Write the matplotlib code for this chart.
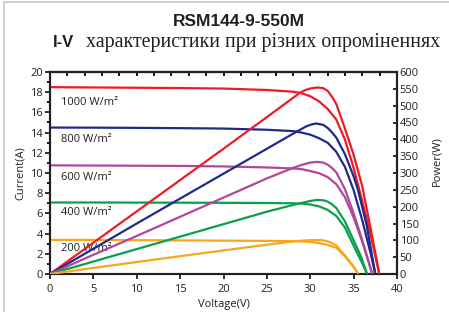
import matplotlib
matplotlib.use("Agg")
import matplotlib.pyplot as plt
from matplotlib.lines import Line2D
from matplotlib.ticker import MultipleLocator

# ---------------- data ----------------
irradiance_labels = ["1000 W/m²", "800 W/m²", "600 W/m²", "400 W/m²", "200 W/m²"]

# I-V curves (voltage V, current A)
v_i_1000 = [0, 5, 10, 15, 20, 25, 28, 29, 30, 31, 32, 33, 34, 35, 36, 37, 37.96]
i_1000 = [18.5, 18.47, 18.44, 18.41, 18.36, 18.22, 18.05, 17.9, 17.6, 17.1, 16.35, 15.3, 13.3, 10.5, 7.2, 3.7, 0]

v_i_800 = [0, 5, 10, 15, 20, 25, 28, 29, 30, 31, 32, 33, 34, 35, 36, 37, 37.5]
i_800 = [14.5, 14.49, 14.47, 14.44, 14.4, 14.28, 14.15, 14.0, 13.8, 13.45, 13.0, 12.1, 10.6, 8.3, 5.3, 1.9, 0]

v_i_600 = [0, 5, 10, 15, 20, 25, 28, 29, 30, 31, 32, 33, 34, 35, 36, 37.15]
i_600 = [10.76, 10.74, 10.72, 10.7, 10.65, 10.55, 10.45, 10.38, 10.2, 9.98, 9.6, 8.9, 7.6, 5.6, 3.2, 0]

v_i_400 = [0, 5, 10, 15, 20, 25, 28, 29, 30, 31, 32, 33, 34, 35, 36, 36.55]
i_400 = [7.08, 7.08, 7.07, 7.06, 7.05, 7.03, 7.0, 6.97, 6.88, 6.7, 6.35, 5.75, 4.6, 2.8, 1.05, 0]

v_i_200 = [0, 5, 10, 15, 20, 25, 28.4, 30, 31, 32, 33, 34, 35, 35.55]
i_200 = [3.38, 3.37, 3.35, 3.33, 3.3, 3.28, 3.25, 3.18, 3.06, 2.88, 2.6, 1.75, 0.7, 0]

# P-V curves (voltage V, power W)
v_p_1000 = [0, 5, 10, 15, 20, 25, 28.8, 29.4, 30, 30.8, 31.5, 32, 32.5, 33, 34, 35, 36, 37, 37.96]
p_1000 = [0, 93, 186, 279, 372, 466, 538, 546, 551, 554, 552, 544, 527, 505, 432, 354, 260, 130, 0]

v_p_800 = [0, 5, 10, 15, 20, 25, 28.44, 29.5, 30.1, 30.7, 31.5, 32, 32.5, 33, 34, 35, 35.5, 36.5, 37.5]
p_800 = [0, 75, 150, 224, 298, 372, 423, 438, 444, 447, 443, 434, 421, 405, 356, 290, 250, 145, 0]

v_p_600 = [0, 5, 10, 15, 20, 25, 28, 29, 30, 30.8, 31.5, 32, 32.5, 33, 34, 35, 36, 37.15]
p_600 = [0, 57, 113, 170, 227, 284, 315, 324, 331, 333, 331, 325, 315, 302, 252, 180, 100, 0]

v_p_400 = [0, 5, 10, 15, 20, 25, 28, 29, 30, 30.8, 31.5, 32, 32.5, 33, 34, 35, 35.8, 36.55]
p_400 = [0, 37, 74, 111, 148, 185, 205, 211, 217, 220, 219, 215, 207, 196, 156, 100, 55, 0]

v_p_200 = [0, 5, 10, 15, 20, 25, 28.4, 30, 30.8, 31.5, 32, 32.5, 33, 34, 35, 35.55]
p_200 = [0, 18, 35.5, 53, 70, 87, 98, 100.5, 101, 100, 97, 92, 85, 55, 22, 0]

colors = ["#ED1C24", "#1F2A8A", "#B0479A", "#08A04B", "#FAA61A"]

label_pos_current = [17.0, 13.3, 9.6, 6.1, 2.55]

title = "RSM144-9-550M"
subtitle_bold = "I-V"
subtitle_text = "характеристики при різних опроміненнях"

# ---------------- figure ----------------
W, H = 449, 312
fig = plt.figure(figsize=(W / 100, H / 100), dpi=100)
fig.patch.set_facecolor("white")

def fx(px):
    return px / W

def fy(py):
    return 1 - py / H

ax_l, ax_r, ax_t, ax_b = 50, 397, 72, 274
ax = fig.add_axes([fx(ax_l), fy(ax_b), (ax_r - ax_l) / W, (ax_b - ax_t) / H])
ax2 = ax.twinx()

lw = 1.6
iv_sets = [(v_i_1000, i_1000), (v_i_800, i_800), (v_i_600, i_600), (v_i_400, i_400), (v_i_200, i_200)]
pv_sets = [(v_p_1000, p_1000), (v_p_800, p_800), (v_p_600, p_600), (v_p_400, p_400), (v_p_200, p_200)]

for (v, i), c in zip(iv_sets, colors):
    ax.plot(v, i, color=c, lw=lw, solid_capstyle="butt", solid_joinstyle="round", zorder=3)
for (v, p), c in zip(pv_sets, colors):
    ax2.plot(v, p, color=c, lw=lw, solid_capstyle="butt", solid_joinstyle="round", zorder=3)

tick_font = "Open Sans"
for lab, yv in zip(irradiance_labels, label_pos_current):
    ax.text(1.3, yv, lab, fontsize=8, family=tick_font, color="#231F20",
            ha="left", va="center", zorder=5)

ax.set_xlim(0, 40)
ax.set_ylim(0, 20)
ax2.set_ylim(0, 600)

ax.xaxis.set_major_locator(MultipleLocator(5))
ax.yaxis.set_major_locator(MultipleLocator(2))
ax.yaxis.set_minor_locator(MultipleLocator(1))
ax2.yaxis.set_major_locator(MultipleLocator(50))

for a in (ax, ax2):
    for s in a.spines.values():
        s.set_linewidth(1.5)
        s.set_color("#231F20")

ax.tick_params(axis="x", which="major", direction="out", length=3.5, width=1.3,
               labelsize=8, pad=3.5, colors="#231F20")
ax.tick_params(axis="y", which="major", direction="out", length=3.5, width=1.3,
               labelsize=8, pad=1.5, colors="#231F20")
ax.tick_params(axis="y", which="minor", direction="out", length=2, width=1.3)
ax2.tick_params(axis="y", which="major", direction="in", length=3, width=1.3,
                labelsize=8, pad=2, colors="#231F20")

for lbl in ax.get_xticklabels() + ax.get_yticklabels() + ax2.get_yticklabels():
    lbl.set_family(tick_font)

top = ax.secondary_xaxis("top")
top.set_xticks(list(range(0, 41, 2)))
top.tick_params(direction="in", length=3, width=1.3, labeltop=False)
top.spines["top"].set_linewidth(1.5)

ax.set_xlabel("Voltage(V)", fontsize=8, family=tick_font, color="#231F20", labelpad=3)
ax.set_ylabel("Current(A)", fontsize=8, family=tick_font, color="#231F20", labelpad=3)
ax2.set_ylabel("Power(W)", fontsize=8, family=tick_font, color="#231F20", labelpad=4)
ax2.yaxis.set_label_coords(1.1, 0.56)

# titles
fig.text(fx(239), fy(21), title, fontsize=12.5, fontweight="bold",
         family="Liberation Sans", ha="center", va="center", color="#231F20")
fig.text(fx(53), fy(47), subtitle_bold, fontsize=12, fontweight="bold",
         family="Liberation Sans", ha="left", va="baseline", color="#231F20")
fig.text(fx(86), fy(47), subtitle_text, fontsize=14.3, family="Liberation Serif",
         ha="left", va="baseline", color="#231F20")

# light frame
fig.add_artist(Line2D([fx(4), fx(4)], [0, fy(2)], color="#C8C8C8", lw=1.2))
fig.add_artist(Line2D([fx(4), 1], [fy(2), fy(2)], color="#C8C8C8", lw=1.2))

fig.savefig("out.png", dpi=100, facecolor="white")
